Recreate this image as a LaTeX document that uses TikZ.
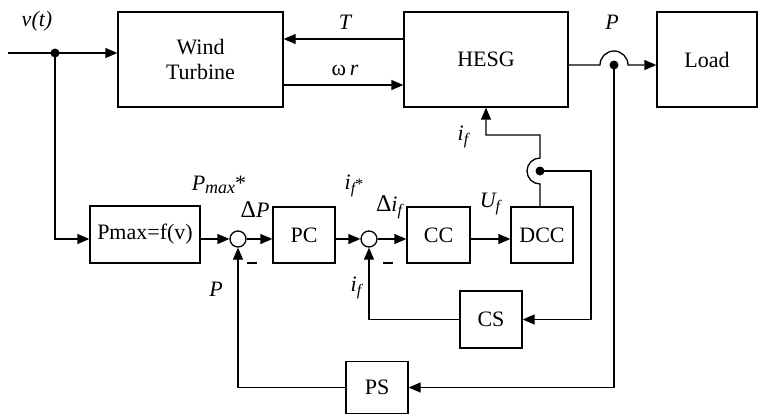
\documentclass[tikz,border=0pt]{standalone}
\usepackage{fontspec}
\setmainfont{Liberation Serif}
\usetikzlibrary{arrows.meta}
\newcommand\lowf{\raisebox{-4pt}{\fontsize{16}{16}\selectfont\itshape f}}
\newcommand\bigdelta{{\fontsize{24}{24}\selectfont Δ}}
\begin{document}
\begin{tikzpicture}[x=1pt,y=-1pt,line width=1.3pt,
  >={Triangle[length=12pt,width=10pt]},
  blk/.style={draw,inner sep=0pt,align=center,font=\fontsize{22}{25}\selectfont},
  sumc/.style={draw,circle,minimum size=16pt,inner sep=0pt},
  lbl/.style={inner sep=0pt,font=\fontsize{22}{24}\selectfont},
  minus/.style={inner sep=0pt}]
\useasboundingbox (0,0) rectangle (763,415);
% blocks
\node[blk,minimum width=165pt,minimum height=95pt] (wt) at (200.5,59.5) {Wind\\Turbine};
\node[blk,minimum width=164pt,minimum height=95pt] (hesg) at (486,59.5) {HESG};
\node[blk,minimum width=100pt,minimum height=95pt] (load) at (707,59.5) {Load};
\node[blk,minimum width=110pt,minimum height=57pt] (pmax) at (145,234.5) {Pmax=f(v)};
\node[sumc] (s1) at (238,239) {};
\node[blk,minimum width=62pt,minimum height=56pt] (pc) at (304,235) {PC};
\node[sumc] (s2) at (369,239) {};
\node[blk,minimum width=63pt,minimum height=56pt] (cc) at (438.5,235) {CC};
\node[blk,minimum width=62pt,minimum height=56pt] (dcc) at (542,235) {DCC};
\node[blk,minimum width=62pt,minimum height=57pt] (cs) at (491,319.5) {CS};
\node[blk,minimum width=62pt,minimum height=52pt] (ps) at (377,387.5) {PS};
% junctions
\coordinate (vin) at (8,53);
\coordinate (vj) at (55,53);
\coordinate (tt) at (404,39);
\coordinate (wr) at (283,85);
\coordinate (pj) at (614,65);
\coordinate (dj) at (540,171);
\coordinate (dk) at (540,135);
\coordinate (dr) at (591,171);
% connectors
\draw[->] (vin) -- (vin -| wt.west);
\fill (vj) circle (4.5pt);
\draw[->] (vj) |- (pmax.west |- s1);
\draw[->] (tt) -- (tt -| wt.east);
\draw[->] (wr) -- (wr -| hesg.west);
\draw[->] (hesg.east |- pj) -- ([xshift=-14pt]pj) arc[start angle=180,end angle=0,radius=14pt] -- (pj -| load.west);
\fill (pj) circle (4.5pt);
\draw[->] (pj) |- (ps.east);
\draw[->] (pmax.east |- s1) -- (s1.west);
\draw[->] (s1.east) -- (s1 -| pc.west);
\draw[->] (pc.east |- s2) -- (s2.west);
\draw[->] (s2.east) -- (s2 -| cc.west);
\draw[->] (cc.east |- s2) -- (s2 -| dcc.west);
\draw[->] (dj |- dcc.north) -- ([yshift=-13pt]dj) arc[start angle=270,end angle=90,radius=13pt] -- (dk) -| (hesg.south);
\fill (dj) circle (4.5pt);
\draw[->] (dj) -- (dr) |- (cs.east);
\draw[->] (cs.west) -| (s2.south);
\draw[->] (ps.west) -| (s1.south);
% labels
\node[lbl] (lv) at (37,21) {\itshape v(t)};
\node[lbl] (lT) at (345,22) {\itshape T};
\node[lbl] (lw) at (345,70) {ω\,\itshape r};
\node[lbl] (lP) at (612,22) {\itshape P};
\node[lbl] (lif1) at (463,137) {\itshape i\lowf};
\node[lbl] (lpm) at (219,185) {\itshape P\raisebox{-3pt}{\fontsize{18}{18}\selectfont max}\upshape*};
\node[lbl] (ldp) at (255,210) {\bigdelta\itshape P};
\node[lbl] (lifs) at (354,186) {\itshape i\lowf\upshape\fontsize{16}{16}\selectfont*};
\node[lbl] (ldi) at (389,207) {\bigdelta\itshape i\lowf};
\node[lbl] (luf) at (490,204) {\itshape U\lowf};
\node[lbl] (lP2) at (216,289) {\itshape P};
\node[lbl] (lif2) at (356,288) {\itshape i\lowf};
\node[minus] (m1) at (252,263) {\rule{10pt}{2.8pt}};
\node[minus] (m2) at (388,263) {\rule{10pt}{2.8pt}};
\end{tikzpicture}
\end{document}
